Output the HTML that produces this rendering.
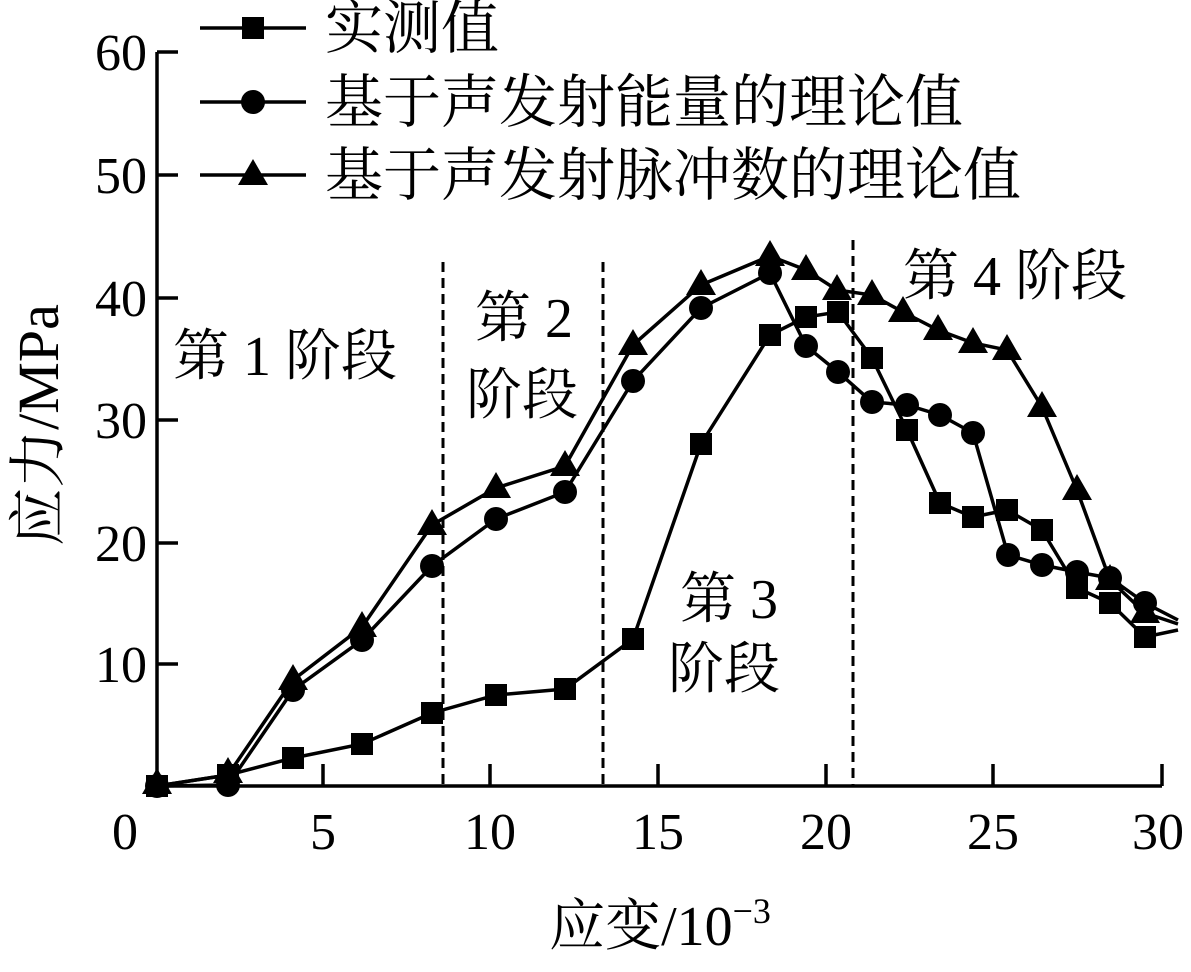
<!DOCTYPE html>
<html><head><meta charset="utf-8"><style>
body{margin:0;background:#fff}
svg text{font-family:"Liberation Serif","Noto Serif CJK SC",serif;fill:#000}
</style></head><body>
<svg width="1191" height="967" viewBox="0 0 1191 967" xmlns="http://www.w3.org/2000/svg">
<defs>
<rect id="sq" x="-11" y="-11" width="22" height="22" fill="#000"/>
<circle id="ci" r="12" fill="#000"/>
<polygon id="tr" points="0,-16 15,10 -15,10" fill="#000"/>
</defs>
<g stroke="#000" stroke-width="3.5" fill="none">
<path d="M157,52 V786 H1162"/>
<path d="M157,52 H178 M157,175 H178 M157,298 H178 M157,420 H178 M157,543 H178 M157,664 H178"/>
<path d="M323,786 V764 M490,786 V764 M658,786 V764 M826,786 V764 M993,786 V764 M1162,786 V764"/>
</g>
<g stroke="#000" stroke-width="3" stroke-dasharray="10,6">
<line x1="443" y1="262" x2="443" y2="786"/>
<line x1="603" y1="262" x2="603" y2="786"/>
<line x1="853" y1="240" x2="853" y2="786"/>
</g>
<g font-size="52" text-anchor="end">
<text x="147" y="70">60</text><text x="147" y="193">50</text><text x="147" y="316">40</text>
<text x="147" y="438">30</text><text x="147" y="561">20</text><text x="147" y="682">10</text>
</g>
<g font-size="52" text-anchor="middle">
<text x="125" y="849">0</text><text x="323" y="849">5</text><text x="490" y="849">10</text>
<text x="658" y="849">15</text><text x="826" y="849">20</text><text x="993" y="849">25</text><text x="1158" y="849">30</text>
</g>
<text x="0" y="0" font-size="58" text-anchor="middle" transform="translate(58,425) rotate(-90)">应力/MPa</text>
<text x="660" y="945" font-size="56" text-anchor="middle">应变/10<tspan font-size="36" dy="-22">−3</tspan></text>
<g fill="none" stroke="#000" stroke-width="3.5">
<polyline points="157,786 228,775 293,758 362,744 432,713 496,695 565,689 633,639 701,444 770,335 806,317 838,312 872,358 907,430 940,503 973,517 1007,510 1042,530 1077,588 1110,603 1145,637 1178,630"/>
<polyline points="157,786 228,785 293,690 362,640 432,566 496,519 565,492 633,381 701,308 770,273 806,346 838,372 872,402 907,405 940,415 973,433 1008,555 1042,565 1077,572 1110,578 1145,603 1178,620"/>
<polyline points="157,786 228,775 293,680 362,627 432,525 496,488 565,466 633,345 701,285 770,256 806,270 837,290 872,295 903,312 938,330 973,343 1007,350 1042,407 1077,490 1110,580 1145,613 1178,624"/>
</g>
<g>
<use href="#sq" x="157" y="786"/><use href="#sq" x="228" y="775"/><use href="#sq" x="293" y="758"/><use href="#sq" x="362" y="744"/><use href="#sq" x="432" y="713"/><use href="#sq" x="496" y="695"/><use href="#sq" x="565" y="689"/><use href="#sq" x="633" y="639"/><use href="#sq" x="701" y="444"/><use href="#sq" x="770" y="335"/><use href="#sq" x="806" y="317"/><use href="#sq" x="838" y="312"/><use href="#sq" x="872" y="358"/><use href="#sq" x="907" y="430"/><use href="#sq" x="940" y="503"/><use href="#sq" x="973" y="517"/><use href="#sq" x="1007" y="510"/><use href="#sq" x="1042" y="530"/><use href="#sq" x="1077" y="588"/><use href="#sq" x="1110" y="603"/><use href="#sq" x="1145" y="637"/>
<use href="#ci" x="157" y="786"/><use href="#ci" x="228" y="785"/><use href="#ci" x="293" y="690"/><use href="#ci" x="362" y="640"/><use href="#ci" x="432" y="566"/><use href="#ci" x="496" y="519"/><use href="#ci" x="565" y="492"/><use href="#ci" x="633" y="381"/><use href="#ci" x="701" y="308"/><use href="#ci" x="770" y="273"/><use href="#ci" x="806" y="346"/><use href="#ci" x="838" y="372"/><use href="#ci" x="872" y="402"/><use href="#ci" x="907" y="405"/><use href="#ci" x="940" y="415"/><use href="#ci" x="973" y="433"/><use href="#ci" x="1008" y="555"/><use href="#ci" x="1042" y="565"/><use href="#ci" x="1077" y="572"/><use href="#ci" x="1110" y="578"/><use href="#ci" x="1145" y="603"/>
<use href="#tr" x="157" y="784"/><use href="#tr" x="228" y="773"/><use href="#tr" x="293" y="680"/><use href="#tr" x="362" y="627"/><use href="#tr" x="432" y="525"/><use href="#tr" x="496" y="488"/><use href="#tr" x="565" y="466"/><use href="#tr" x="633" y="345"/><use href="#tr" x="701" y="285"/><use href="#tr" x="770" y="256"/><use href="#tr" x="806" y="270"/><use href="#tr" x="837" y="290"/><use href="#tr" x="872" y="295"/><use href="#tr" x="903" y="312"/><use href="#tr" x="938" y="330"/><use href="#tr" x="973" y="343"/><use href="#tr" x="1007" y="350"/><use href="#tr" x="1042" y="407"/><use href="#tr" x="1077" y="490"/><use href="#tr" x="1110" y="580"/><use href="#tr" x="1145" y="613"/>
</g>
<g stroke="#000" stroke-width="3.5">
<line x1="200" y1="28" x2="306" y2="28"/><line x1="200" y1="102" x2="306" y2="102"/><line x1="200" y1="175" x2="306" y2="175"/>
</g>
<use href="#sq" x="253" y="28"/><use href="#ci" x="253" y="102"/><use href="#tr" x="253" y="175"/>
<g font-size="58">
<text x="325" y="48">实测值</text>
<text x="325" y="122">基于声发射能量的理论值</text>
<text x="325" y="195">基于声发射脉冲数的理论值</text>
</g>
<g font-size="56">
<text x="173" y="375">第 1 阶段</text>
<text x="475" y="337">第 2</text>
<text x="466" y="414">阶段</text>
<text x="680" y="618">第 3</text>
<text x="668" y="688">阶段</text>
<text x="903" y="295">第 4 阶段</text>
</g>
</svg>
</body></html>
